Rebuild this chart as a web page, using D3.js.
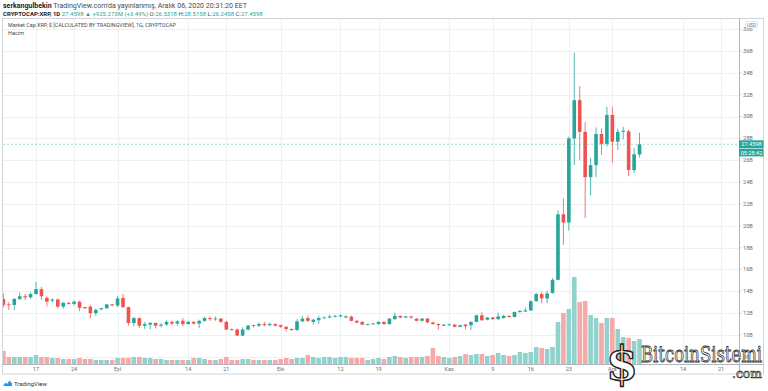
<!DOCTYPE html>
<html>
<head>
<meta charset="utf-8">
<script src="https://cdn.jsdelivr.net/npm/d3@7"></script>
<style>
  html, body { margin: 0; padding: 0; background: #fff; }
  svg { display: block; font-family: Roboto, "Liberation Sans", sans-serif; }
</style>
</head>
<body>
<svg id="chart" width="768" height="391"></svg>
<script>
// daily candles, market cap in billions USD
const startDate = '2020-08-11';
const opens = [13.3,12.8,12.75,13.3,13.55,13.45,13.75,14.2,13.4,13.15,
  13.25,12.6,12.95,12.85,13.05,12.55,12.6,12.0,12.35,12.45,
  12.8,12.7,13.4,12.55,11.1,11.55,10.85,10.95,11.1,10.85,
  10.95,11.2,11.05,11.3,11.0,11.2,11.05,11.3,11.55,11.45,
  11.5,11.2,10.55,10.5,9.95,10.5,10.9,10.85,11.0,10.9,
  11.0,10.9,10.75,10.55,10.45,11.25,11.55,11.2,11.35,11.55,
  11.6,11.7,11.7,11.6,11.67,11.3,11.2,10.95,10.98,11.0,
  11.2,11.0,11.45,11.75,11.6,11.7,11.5,11.3,11.5,11.15,
  11.0,10.85,10.9,10.95,10.75,10.95,10.9,11.2,11.8,11.4,
  11.6,11.45,11.55,11.75,11.65,12.1,12.15,12.25,13.1,13.75,
  13.35,13.85,15.05,21.05,20.3,28.0,31.5,28.6,24.45,25.55,
  28.4,27.5,30.15,27.7,28.6,28.65,25.1,26.5318];
const highs = [13.8,13.0,13.4,13.9,13.75,13.9,14.85,14.4,13.55,13.35,
  13.35,13.0,13.0,13.15,13.15,12.6,12.75,12.45,12.5,12.85,
  12.85,13.6,13.75,12.6,11.65,11.6,11.2,11.2,11.15,11.1,
  11.35,11.3,11.35,11.55,11.3,11.3,11.4,11.65,11.7,11.7,
  11.55,11.3,10.6,10.6,10.7,10.95,10.95,11.15,11.2,11.15,
  11.05,10.95,10.8,10.6,11.45,11.75,11.8,11.5,11.75,11.7,
  11.85,11.85,11.9,11.8,11.8,11.35,11.25,11.05,11.1,11.25,
  11.25,11.55,12.05,11.8,11.75,11.75,11.55,11.55,11.55,11.2,
  11.05,11.0,11.05,11.0,10.95,11.0,11.25,11.85,12.1,11.65,
  11.65,12.05,11.85,11.8,12.15,12.3,12.5,13.15,13.85,13.95,
  14.05,15.2,21.4,22.5,28.15,35.85,32.8,29.5,26.2,29.0,
  28.9,30.9,30.9,28.9,29.05,28.8,27.1,28.5158];
const lows = [12.5,12.3,12.3,13.2,13.2,13.3,13.7,13.2,12.6,12.95,
  12.45,12.4,12.8,12.7,12.2,12.4,11.55,11.75,12.3,12.4,
  12.65,12.55,12.45,10.85,10.8,10.65,10.55,10.5,10.6,10.7,
  10.85,10.9,10.85,10.8,10.95,10.95,10.65,11.2,11.3,11.3,
  11.1,10.45,10.4,9.9,9.9,10.4,10.7,10.75,10.8,10.8,
  10.8,10.65,10.3,10.4,10.4,11.2,11.2,10.95,11.0,11.5,
  11.55,11.6,11.65,11.55,11.25,11.05,10.9,10.9,10.95,10.95,
  10.95,10.95,11.4,11.55,11.55,11.5,11.25,11.25,11.1,10.95,
  10.5,10.8,10.85,10.7,10.7,10.5,10.45,11.15,11.3,11.35,
  11.4,11.4,11.5,11.6,11.6,12.05,12.1,12.2,13.05,12.9,
  12.9,13.8,15.0,18.25,19.55,25.55,26.0,20.7,22.8,24.45,
  26.5,27.25,25.75,26.95,27.9,24.55,24.85,26.2458];
const closes = [12.75,12.75,13.3,13.55,13.45,13.75,14.2,13.55,13.05,13.25,
  12.6,12.95,12.85,13.05,12.5,12.45,12.0,12.3,12.45,12.8,
  12.7,13.35,12.55,11.1,11.55,10.85,11.0,11.1,10.85,10.95,
  11.2,11.05,11.25,11.0,11.2,11.05,11.3,11.55,11.45,11.5,
  11.2,10.5,10.5,9.95,10.5,10.85,10.85,11.0,10.9,11.0,
  10.85,10.75,10.55,10.45,11.25,11.5,11.3,11.4,11.55,11.6,
  11.7,11.75,11.8,11.7,11.3,11.15,10.95,11.0,11.05,11.2,
  11.0,11.5,11.75,11.6,11.7,11.6,11.3,11.5,11.15,11.0,
  10.9,10.95,10.97,10.75,10.9,10.8,11.2,11.8,11.35,11.6,
  11.45,11.7,11.75,11.65,12.1,12.2,12.25,13.1,13.75,13.35,
  13.8,15.05,21.05,20.3,28.0,31.5,28.6,24.45,25.55,28.4,
  27.5,30.15,27.7,28.6,28.7,25.1,26.55,27.4598];
// daily volume, billions USD
const volumes = [3.9,2.1,2.1,2.1,2.1,2.1,2.7,2.1,2.1,1.8,
  1.8,1.5,1.5,1.5,1.8,1.5,1.5,1.2,1.2,1.2,
  1.2,1.8,1.8,1.8,2.1,2.1,1.8,1.8,1.5,1.5,
  1.2,1.2,1.2,1.2,1.2,1.8,1.8,1.5,1.2,1.2,
  1.5,2.1,1.2,1.2,1.5,1.5,1.2,1.2,1.2,1.2,
  1.2,1.5,1.8,1.5,1.8,1.8,2.7,2.1,1.8,2.1,
  2.1,1.8,2.1,2.1,1.8,1.8,1.8,1.2,1.5,1.8,
  1.5,2.1,2.4,2.1,1.8,2.1,2.1,2.1,2.4,4.8,
  2.4,2.1,1.8,2.1,2.4,3.0,2.7,3.0,3.0,2.4,
  2.7,3.3,2.7,2.4,2.7,3.6,3.3,3.6,5.1,4.8,
  4.5,5.1,12.6,15.3,16.5,26.1,18.6,18.9,14.7,13.8,
  12.3,13.8,13.8,10.5,8.1,7.8,6.9,7.5];
const priceTicks = [8, 10, 12, 14, 16, 18, 20, 22, 24, 26, 28, 30, 32, 34, 36, 38];
const timeTicks = ['2020-08-17','2020-08-24','2020-09-01','2020-09-14','2020-09-21','2020-10-01',
  '2020-10-12','2020-10-19','2020-11-01','2020-11-09','2020-11-16','2020-11-23',
  '2020-12-01','2020-12-14','2020-12-21'];
const timeLabels = ['17','24','Eyl','14','21','Eki','12','19','Kas','9','16','23','Ara','14','21'];
const lastPrice = 27.4598;

const UP = '#26a69a', DOWN = '#ef5350';
const UP_VOL = '#92d2cc', DOWN_VOL = '#f7a9a7';
const GRID = '#edf1f6', AXIS = '#b2b5be', TEXT = '#6a6d78';

const parse = d3.utcParse('%Y-%m-%d');
const start = parse(startDate);
const candles = opens.map((o, i) => ({
    date: d3.utcDay.offset(start, i),
    o, h: highs[i], l: lows[i], c: closes[i], v: volumes[i]
}));

const plot = { left: 3, right: 739, top: 18, bottom: 364 };

const svg = d3.select('#chart');

// scales
const x = d3.scaleUtc()
    .domain([start, parse('2020-12-21')])
    .range([3.4, 3.4 + 5.437 * 132]);
const y = d3.scaleLinear().domain([8, 38]).range([356.85, 29.15]);
const yVol = d3.scaleLinear().domain([0, d3.max(volumes)]).range([plot.bottom, 277]);

svg.append('defs').append('clipPath').attr('id', 'plotClip')
    .append('rect')
    .attr('x', plot.left).attr('y', plot.top)
    .attr('width', plot.right - plot.left).attr('height', plot.bottom - plot.top);

// header lines
const header = svg.append('g').attr('fill', '#4a4a4a');
const h1 = header.append('text').attr('x', 3).attr('y', 7.5).attr('font-size', 6.5)
    .attr('textLength', 244).attr('lengthAdjust', 'spacingAndGlyphs');
h1.append('tspan').attr('font-weight', 'bold').attr('fill', '#222').text('serkangulbekin');
h1.append('tspan').text(' TradingView.com\'da yayınlanmış, Aralık 06, 2020 20:31:20 EET');
const h2 = header.append('text').attr('x', 3).attr('y', 15.5).attr('font-size', 6);
h2.append('tspan').attr('font-weight', 'bold').attr('fill', '#222').text('CRYPTOCAP:XRP, 1D');
h2.append('tspan').attr('fill', UP).text(' 27.4598 ▲ +925.273M (+3.49%)');
[['O:', '26.5318'], ['H:', '28.5158'], ['L:', '26.2458'], ['C:', '27.4598']].forEach(([k, v]) => {
    h2.append('tspan').text(' ' + k);
    h2.append('tspan').attr('fill', UP).text(v);
});

// grid
const grid = svg.append('g').attr('clip-path', 'url(#plotClip)');
grid.selectAll('.hgrid').data(priceTicks).join('line')
    .attr('x1', plot.left).attr('x2', plot.right)
    .attr('y1', d => Math.round(y(d)) + 0.5).attr('y2', d => Math.round(y(d)) + 0.5)
    .attr('stroke', GRID).attr('stroke-width', 1);
grid.selectAll('.vgrid').data(timeTicks).join('line')
    .attr('x1', d => Math.round(x(parse(d))) + 0.5).attr('x2', d => Math.round(x(parse(d))) + 0.5)
    .attr('y1', plot.top).attr('y2', plot.bottom)
    .attr('stroke', GRID).attr('stroke-width', 1);

// legend inside pane
svg.append('text').attr('x', 8).attr('y', 26.5).attr('font-size', 5.6).attr('fill', '#4a4a4a')
    .attr('textLength', 168).attr('lengthAdjust', 'spacingAndGlyphs')
    .text('Market Cap XRP, $ [CALCULATED BY TRADINGVIEW], 1G, CRYPTOCAP');
svg.append('text').attr('x', 8).attr('y', 34.5).attr('font-size', 5.6).attr('fill', '#4a4a4a')
    .text('Hacim');

const marks = svg.append('g').attr('clip-path', 'url(#plotClip)');

// volume bars
marks.selectAll('.vol').data(candles).join('rect')
    .attr('x', d => x(d.date) - 2.3)
    .attr('width', 4.6)
    .attr('y', d => yVol(d.v))
    .attr('height', d => plot.bottom - yVol(d.v))
    .attr('fill', d => d.c >= d.o ? UP_VOL : DOWN_VOL);

// candles
const candle = marks.selectAll('.candle').data(candles).join('g');
candle.append('line')
    .attr('x1', d => x(d.date)).attr('x2', d => x(d.date))
    .attr('y1', d => y(d.h)).attr('y2', d => y(d.l))
    .attr('stroke', d => d.c >= d.o ? UP : DOWN).attr('stroke-width', 0.8);
candle.append('rect')
    .attr('x', d => x(d.date) - 1.8)
    .attr('width', 3.6)
    .attr('y', d => y(Math.max(d.o, d.c)))
    .attr('height', d => Math.max(0.8, Math.abs(y(d.o) - y(d.c))))
    .attr('fill', d => d.c >= d.o ? UP : DOWN);

// last price line
marks.append('line')
    .attr('x1', plot.left).attr('x2', plot.right)
    .attr('y1', y(lastPrice)).attr('y2', y(lastPrice))
    .attr('stroke', UP).attr('stroke-width', 0.6).attr('stroke-dasharray', '2,2').attr('opacity', 0.7);

// frame
svg.append('rect').attr('x', 2.5).attr('y', 18.5).attr('width', 761).attr('height', 355.5)
    .attr('fill', 'none').attr('stroke', '#d1d4dc').attr('stroke-width', 1);
svg.append('line').attr('x1', plot.right + 0.5).attr('x2', plot.right + 0.5)
    .attr('y1', 18).attr('y2', 374).attr('stroke', AXIS);
svg.append('line').attr('x1', 2.5).attr('x2', 764)
    .attr('y1', plot.bottom + 0.5).attr('y2', plot.bottom + 0.5).attr('stroke', AXIS);

// price axis
const pAxis = svg.append('g').attr('font-size', 5.6).attr('fill', TEXT);
pAxis.selectAll('line').data(priceTicks).join('line')
    .attr('x1', plot.right).attr('x2', plot.right + 2.5)
    .attr('y1', d => y(d)).attr('y2', d => y(d)).attr('stroke', AXIS).attr('stroke-width', 0.6);
pAxis.selectAll('text').data(priceTicks).join('text')
    .attr('x', plot.right + 4).attr('y', d => y(d)).attr('dy', '0.35em')
    .text(d => d + 'B');

// USD badge
svg.append('rect').attr('x', 745.5).attr('y', 21.5).attr('width', 12).attr('height', 6.5).attr('rx', 1.5)
    .attr('fill', '#fff').attr('stroke', '#d1d4dc').attr('stroke-width', 0.6);
svg.append('text').attr('x', 751.5).attr('y', 26.6).attr('text-anchor', 'middle')
    .attr('font-size', 4.8).attr('fill', TEXT).text('USD');

// last price tag and countdown
const tagY = y(lastPrice);
svg.append('rect').attr('x', plot.right).attr('y', tagY - 4).attr('width', 24.5).attr('height', 8).attr('fill', UP);
svg.append('text').attr('x', plot.right + 12.5).attr('y', tagY).attr('dy', '0.35em').attr('text-anchor', 'middle')
    .attr('font-size', 5.6).attr('fill', '#fff').text('27.4598');
svg.append('rect').attr('x', plot.right).attr('y', tagY + 4.6).attr('width', 24.5).attr('height', 7.5).attr('fill', UP);
svg.append('text').attr('x', plot.right + 12.5).attr('y', tagY + 8.4).attr('dy', '0.35em').attr('text-anchor', 'middle')
    .attr('font-size', 5.6).attr('fill', '#fff').text('05:28:42');

// time axis
svg.append('g').attr('font-size', 5.6).attr('fill', TEXT).attr('text-anchor', 'middle')
    .selectAll('text').data(timeTicks).join('text')
    .attr('x', d => x(parse(d))).attr('y', 369).attr('dy', '0.35em')
    .text((d, i) => timeLabels[i]);

// TradingView footer
const tv = svg.append('g').attr('transform', 'translate(3,380)');
tv.append('path').attr('d', 'M0,6 L2.5,2.5 L4,4 L6.5,0.5 L9,3.5 L9,6 Z').attr('fill', '#2196f3');
tv.append('text').attr('x', 11).attr('y', 6).attr('font-size', 6).attr('fill', '#2a2e39').text('TradingView');

// BitcoinSistemi watermark
const wm = svg.append('g');
wm.append('text').attr('x', 606).attr('y', 380).attr('font-family', '"DejaVu Serif", serif')
    .attr('font-weight', 'bold').attr('font-size', 46).attr('fill', '#fff')
    .attr('stroke', '#222').attr('stroke-width', 1.4).text('$');
wm.append('text').attr('x', 641).attr('y', 362).attr('font-family', '"DejaVu Serif", serif')
    .attr('font-size', 23).attr('textLength', 121).attr('lengthAdjust', 'spacingAndGlyphs')
    .attr('fill', '#fff').attr('stroke', '#333').attr('stroke-width', 0.9).text('BitcoinSistemi');
wm.append('text').attr('x', 732).attr('y', 378).attr('font-family', '"DejaVu Serif", serif')
    .attr('font-size', 13).attr('textLength', 30).attr('lengthAdjust', 'spacingAndGlyphs')
    .attr('fill', '#fff').attr('stroke', '#333').attr('stroke-width', 0.7).text('.com');
</script>
</body>
</html>
